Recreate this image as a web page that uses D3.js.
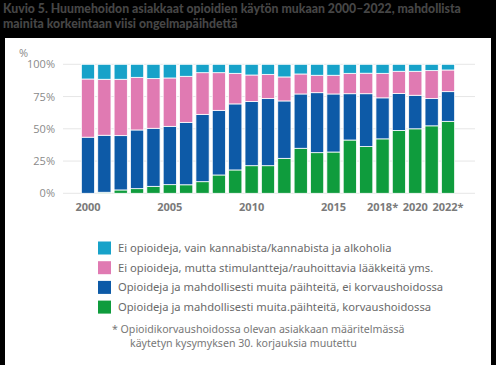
<!DOCTYPE html>
<html><head><meta charset="utf-8">
<script src="https://cdn.jsdelivr.net/npm/d3@7"></script>
<style>
html,body{margin:0;padding:0;background:#000;}
svg{display:block;}
</style></head>
<body>
<svg id="c" width="496" height="365"></svg>
<script>
const years = ["2000","2001","2002","2003","2004","2005","2006","2007","2008","2009","2010","2011","2012","2013","2014","2015","2016","2017","2018","2019","2020","2021","2022"];
const tickYears = ["2000","2005","2010","2015","2018","2020","2022"];
const tickLabels = ["2000","2005","2010","2015","2018*","2020","2022*"];
const green = [0,0.8,2.6,3.6,5.4,6.7,6.6,9.0,14.2,18.1,21.4,21.4,27.1,34.9,31.5,32.0,41.3,36.2,42.2,48.7,50.0,52.3,55.8];
const blue  = [43.5,44.2,42.1,45.5,45.0,45.2,48.4,52.2,50.1,51.2,49.7,52.0,44.5,42.1,46.5,45.0,35.9,41.0,31.8,28.7,26.0,21.1,23.0];
const pink  = [45.1,43.4,43.7,40.8,38.5,37.5,35.7,32.3,29.2,23.7,20.6,18.8,18.6,15.5,13.5,14.5,15.8,15.9,19.0,17.2,18.6,21.7,16.8];
const cyan  = [11.4,11.6,11.6,10.1,11.1,10.6,9.3,6.5,6.5,7.0,8.3,7.8,9.8,7.5,8.5,8.5,7.0,6.9,7.0,5.4,5.4,4.9,4.4];
const yTicks = [0,25,50,75,100];
const seriesKeys = ["green","blue","pink","cyan"];
const seriesNames = {
  cyan: "Ei opioideja, vain kannabista/kannabista ja alkoholia",
  pink: "Ei opioideja, mutta stimulantteja/rauhoittavia lääkkeitä yms.",
  blue: "Opioideja ja mahdollisesti muita päihteitä, ei korvaushoidossa",
  green: "Opioideja ja mahdollisesti muita.päihteitä, korvaushoidossa"
};
const colors = {cyan:"#17a2c9", pink:"#e07ab2", blue:"#0d5aa7", green:"#0f9c3d"};
const legendOrder = ["cyan","pink","blue","green"];
const titleLines = ["Kuvio 5. Huumehoidon asiakkaat opioidien käytön mukaan 2000–2022, mahdollista","mainita korkeintaan viisi ongelmapäihdettä"];
const footLines = ["* Opioidikorvaushoidossa olevan asiakkaan määritelmässä","käytetyn kysymyksen 30. korjauksia muutettu"];

const rows = years.map((y,i)=>({year:y, green:green[i], blue:blue[i], pink:pink[i], cyan:cyan[i]}));
const stacked = d3.stack().keys(seriesKeys)(rows);

const svg = d3.select("#c");
svg.append("rect").attr("x",5).attr("y",38).attr("width",486).attr("height",327).attr("fill","#fff");

// title
svg.append("g").selectAll("text").data(titleLines).join("text")
  .attr("x",3).attr("y",(d,i)=>12.5+i*15)
  .attr("font-family","Lato").attr("font-weight",900).attr("font-size",12.25)
  .attr("fill","#464646").text(d=>d);

const x = d3.scaleBand().domain(years).range([79.8,456.2]).paddingInner(0.19).paddingOuter(0.095);
const y = d3.scaleLinear().domain([0,100]).range([193.3,64.3]);

// grid
svg.append("g").selectAll("line").data(yTicks).join("line")
  .attr("x1",63).attr("x2",475).attr("y1",d=>y(d)).attr("y2",d=>y(d))
  .attr("stroke","#e6e6e6").attr("stroke-width",1);

// y axis labels
const yAxis = d3.axisLeft(y).tickValues(yTicks).tickFormat(d=>d+"%").tickSize(0).tickPadding(0);
const ya = svg.append("g").attr("transform","translate(55,0)").call(yAxis);
ya.select(".domain").remove();
ya.selectAll("text").attr("font-family","Open Sans").attr("font-size",11).attr("fill","#8a8a8a");
svg.append("text").attr("x",19).attr("y",57).attr("font-family","Open Sans").attr("font-size",11).attr("fill","#8a8a8a").text("%");

// bars
svg.append("g").selectAll("g").data(stacked).join("g")
  .attr("fill",d=>colors[d.key])
  .selectAll("rect").data(d=>d).join("rect")
  .attr("x",d=>x(d.data.year)).attr("width",x.bandwidth())
  .attr("y",d=>y(d[1])).attr("height",d=>Math.max(0,y(d[0])-y(d[1])))
  .attr("stroke","#fff").attr("stroke-width",0.8);

// x axis labels
const xAxis = d3.axisBottom(x).tickValues(tickYears).tickFormat((d)=>tickLabels[tickYears.indexOf(d)]).tickSize(0).tickPadding(0);
const xa = svg.append("g").attr("transform","translate(0,203)").call(xAxis);
xa.select(".domain").remove();
xa.selectAll("text").attr("font-family","Open Sans").attr("font-weight",700).attr("font-size",11).attr("fill","#7a7a7a");

// legend
const lg = svg.append("g").selectAll("g").data(legendOrder).join("g")
  .attr("transform",(d,i)=>`translate(98,${241.5+i*19.7})`);
lg.append("rect").attr("width",13).attr("height",13).attr("fill",d=>colors[d]);
lg.append("text").attr("x",20).attr("y",10.5).attr("font-family","Source Sans Pro, Noto Sans").attr("font-size",11.2)
  .attr("fill","#6a6a6a").text(d=>seriesNames[d]);

// footnote
svg.append("g").selectAll("text").data(footLines).join("text")
  .attr("x",(d,i)=>i===0?112:130).attr("y",(d,i)=>333+i*13.5)
  .attr("font-family","Noto Sans").attr("font-size",10.6).attr("fill","#777").text(d=>d);
</script>
</body></html>
